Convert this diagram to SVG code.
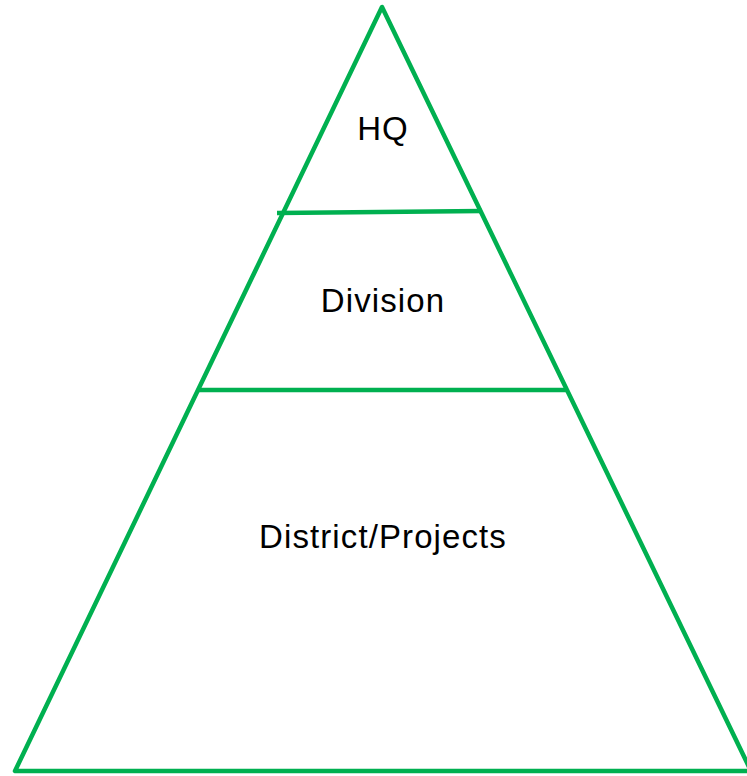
<svg xmlns="http://www.w3.org/2000/svg" width="747" height="776" viewBox="0 0 747 776">
<style>
.ln{fill:none;stroke:#00B050;stroke-width:4.5;stroke-linejoin:round;stroke-linecap:butt}
.lb{font-family:"Liberation Sans",Arial,sans-serif;font-size:33px;letter-spacing:1.1px;fill:#000;text-anchor:middle}
</style>
<rect width="747" height="776" fill="#fff"/>
<g id="connectors">
<path id="pyramid" class="ln" d="M382,7 L15,771 L751,771 Z"/>
<line class="ln" x1="277" y1="213" x2="482" y2="211"/>
<line class="ln" x1="197" y1="390" x2="568" y2="390"/>
</g>
<g id="hq"><text class="lb" x="383" y="140">HQ</text></g>
<g id="division"><text class="lb" x="383" y="312">Division</text></g>
<g id="district"><text class="lb" x="383" y="548">District/Projects</text></g>
</svg>
